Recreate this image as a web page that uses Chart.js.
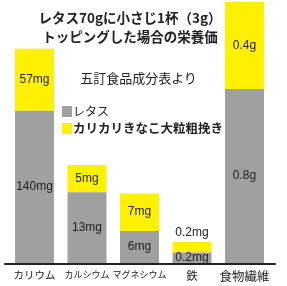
<!DOCTYPE html>
<html>
<head>
<meta charset="utf-8">
<script src="https://cdn.jsdelivr.net/npm/chart.js@4"></script>
<style>
  body { margin: 0; background: #fff; }
  #wrap { position: relative; width: 287px; height: 286px; font-family: "Noto Sans CJK JP", sans-serif; color: #222; }
  #chart { position: absolute; left: 0; top: 0; }
  .title { position: absolute; left: 0; top: 8px; width: 260px; text-align: center; font-weight: bold; font-size: 13.5px; line-height: 19px; }
  .source { position: absolute; left: 0; top: 69px; width: 277px; text-align: center; font-size: 13px; line-height: 18px; }
  .legend { position: absolute; left: 62px; top: 103px; }
  .legend div { display: flex; align-items: center; white-space: nowrap; }
  .legend span.box { display: inline-block; width: 10px; height: 11px; margin-right: 1px; }
</style>
</head>
<body>
<div id="wrap">
  <canvas id="chart" width="287" height="286"></canvas>
  <div class="title">レタス70gに小さじ1杯（3g）<br>トッピングした場合の栄養価</div>
  <div class="source">五訂食品成分表より</div>
  <div class="legend" id="legend"></div>
</div>
<script>
// categories and values (labels are shown inside the bars)
const categories = ['カリウム', 'カルシウム', 'マグネシウム', '鉄', '食物繊維'];
const units = ['mg', 'mg', 'mg', 'mg', 'g'];
const lettuceValues = [140, 13, 6, 0.2, 0.8];
const toppingValues = [57, 5, 7, 0.2, 0.4];
// each category is drawn on its own scale in the original picture
const displayScale = [1.087, 5.45, 5.35, 53, 217.5];

const seriesNames = ['レタス', 'カリカリきなこ大粒粗挽き'];
const seriesColors = ['#a0a0a0', '#fff100'];

const lettuceHeights = lettuceValues.map((v, i) => v * displayScale[i]);
const toppingHeights = toppingValues.map((v, i) => v * displayScale[i]);

// tick label sizes (the original font has narrow kana)
const tickSizes = [10.5, 9, 9, 11.5, 12.5];

// html legend
const legendEl = document.getElementById('legend');
legendEl.innerHTML =
  '<div style="font-size:12px;line-height:16px"><span class="box" style="background:' + seriesColors[0] + '"></span>' + seriesNames[0] + '</div>' +
  '<div style="font-size:12.5px;line-height:18px;font-weight:bold"><span class="box" style="background:' + seriesColors[1] + '"></span>' + seriesNames[1] + '</div>';

// draws value text in the middle of every segment
const valueLabels = {
  id: 'valueLabels',
  afterDatasetsDraw(chart) {
    const ctx = chart.ctx;
    ctx.save();
    ctx.font = '12px "Liberation Sans", Arial, sans-serif';
    ctx.fillStyle = '#222';
    ctx.textAlign = 'center';
    ctx.textBaseline = 'middle';
    const raw = [lettuceValues, toppingValues];
    chart.data.datasets.forEach((ds, di) => {
      chart.getDatasetMeta(di).data.forEach((bar, i) => {
        const text = raw[di][i] + units[i];
        const h = bar.base - bar.y;
        let y = (bar.y + bar.base) / 2;
        if (di === 1 && h < 15) {
          y = bar.y - 9;
        }
        ctx.fillText(text, bar.x, y);
      });
    });
    ctx.restore();
  }
};

// baseline runs a little past the bars on both sides
const baseLine = {
  id: 'baseLine',
  afterDatasetsDraw(chart) {
    const { ctx, chartArea } = chart;
    ctx.save();
    ctx.strokeStyle = '#222';
    ctx.lineWidth = 2;
    ctx.beginPath();
    ctx.moveTo(chartArea.left - 4, chartArea.bottom + 1);
    ctx.lineTo(chartArea.right + 5, chartArea.bottom + 1);
    ctx.stroke();
    ctx.restore();
  }
};

new Chart(document.getElementById('chart'), {
  type: 'bar',
  data: {
    labels: categories,
    datasets: [{
      label: seriesNames[0],
      data: lettuceHeights,
      backgroundColor: seriesColors[0],
      categoryPercentage: 1,
      barPercentage: 0.743
    }, {
      label: seriesNames[1],
      data: toppingHeights,
      backgroundColor: seriesColors[1],
      categoryPercentage: 1,
      barPercentage: 0.743
    }]
  },
  options: {
    responsive: false,
    animation: false,
    layout: {
      padding: { left: 8.25, right: 16.25, top: 2, bottom: 0 }
    },
    plugins: {
      legend: { display: false },
      tooltip: { enabled: false }
    },
    scales: {
      x: {
        stacked: true,
        afterFit: (scale) => { scale.height = 23; },
        grid: { display: false, drawTicks: false },
        border: { display: false },
        ticks: {
          color: '#222',
          padding: 6,
          maxRotation: 0,
          autoSkip: false,
          font: (c) => ({
            family: '"Noto Sans CJK JP", sans-serif',
            size: tickSizes[c.index]
          })
        }
      },
      y: {
        stacked: true,
        display: false,
        min: 0,
        max: 261
      }
    }
  },
  plugins: [valueLabels, baseLine]
});
</script>
</body>
</html>
